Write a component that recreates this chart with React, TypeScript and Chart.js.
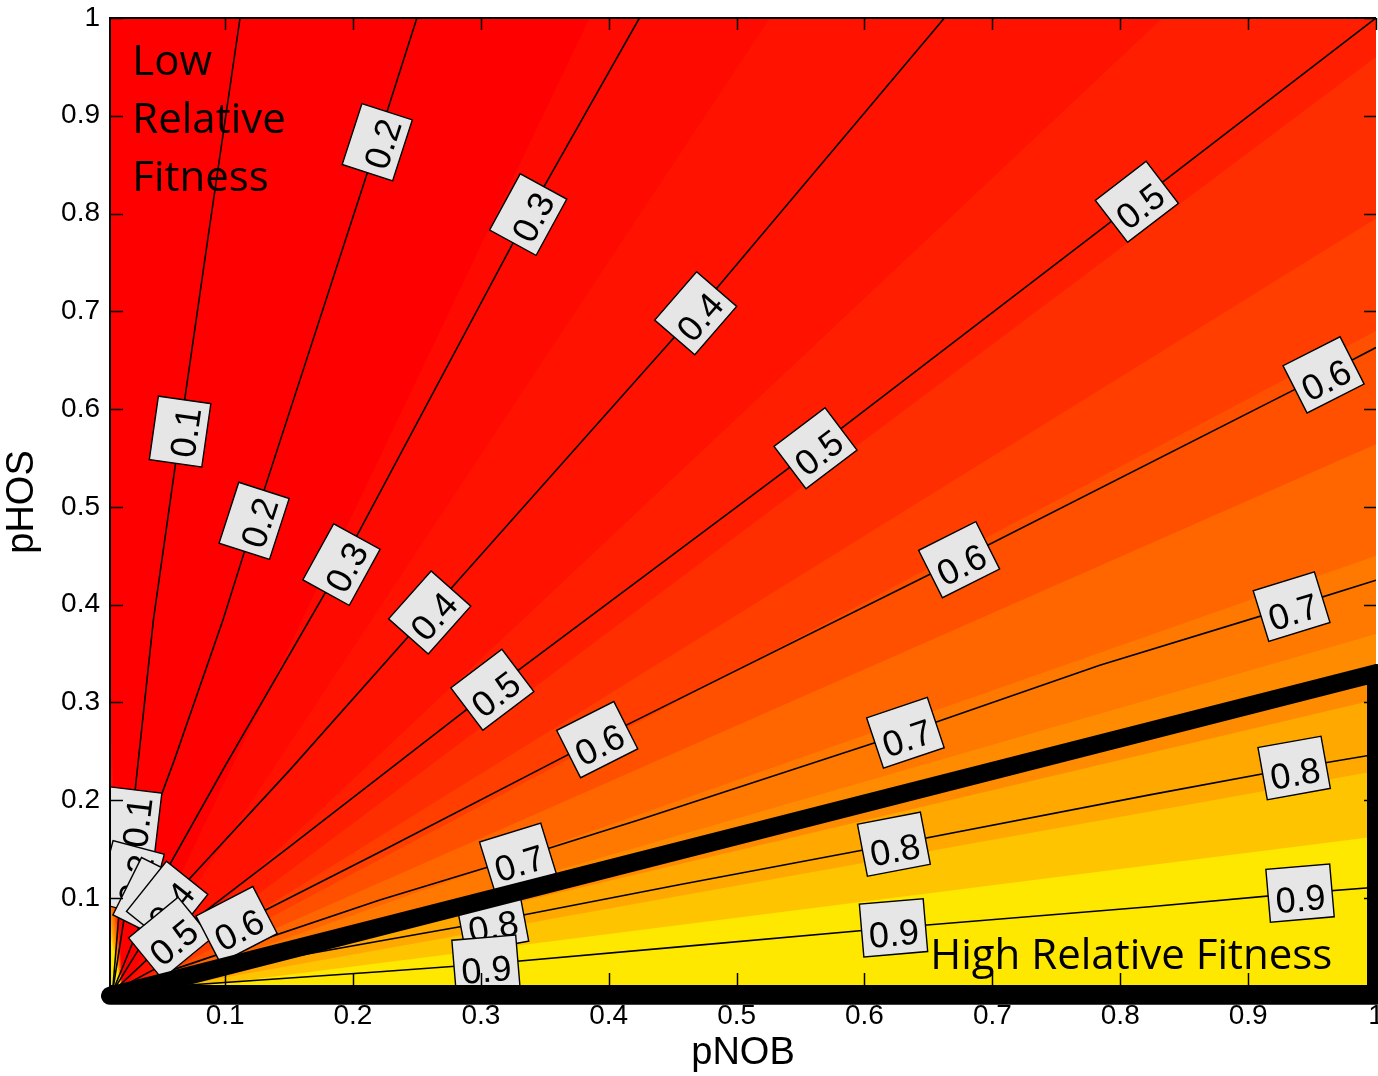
import React, { useEffect, useRef } from "react";
import { Chart, registerables } from "chart.js";

Chart.register(...registerables);

type Pt = [number, number];

// ---------- axes ----------
const xTicks = [0.1, 0.2, 0.3, 0.4, 0.5, 0.6, 0.7, 0.8, 0.9, 1];
const yTicks = [0.1, 0.2, 0.3, 0.4, 0.5, 0.6, 0.7, 0.8, 0.9, 1];
const xLimits = [0.01, 1];
const yLimits = [0.01, 1];

// ---------- contour lines (pNOB, pHOS) ----------
const contourLevels = [0.1, 0.2, 0.3, 0.4, 0.5, 0.6, 0.7, 0.8, 0.9];
const contour01: Pt[] = [[0.012, 0.004], [0.018, 0.1], [0.027, 0.178], [0.044, 0.385], [0.0648, 0.577], [0.0867, 0.776], [0.1117, 1]];
const contour02: Pt[] = [[0.012, 0.004], [0.026, 0.12], [0.06, 0.24], [0.0984, 0.3845], [0.1227, 0.4857], [0.219, 0.873], [0.25, 1]];
const contour03: Pt[] = [[0.012, 0.004], [0.042, 0.1], [0.1, 0.235], [0.191, 0.441], [0.337, 0.799], [0.424, 1]];
const contour04: Pt[] = [[0.012, 0.004], [0.0547, 0.095], [0.15, 0.23], [0.26, 0.392], [0.468, 0.698], [0.6625, 1]];
const contour05: Pt[] = [[0.012, 0.004], [0.057, 0.059], [0.15, 0.152], [0.309, 0.313], [0.5617, 0.56], [0.813, 0.812], [1, 1]];
const contour06: Pt[] = [[0.012, 0.004], [0.06, 0.038], [0.109, 0.0726], [0.221, 0.147], [0.391, 0.262], [0.674, 0.446], [0.959, 0.635], [1, 0.663]];
const contour07: Pt[] = [[0.012, 0.004], [0.06, 0.027], [0.221, 0.098], [0.329, 0.141], [0.424, 0.18], [0.632, 0.269], [0.784, 0.338], [0.934, 0.398], [1, 0.425]];
const contour08: Pt[] = [[0.012, 0.004], [0.05, 0.016], [0.221, 0.056], [0.309, 0.0765], [0.455, 0.1135], [0.623, 0.155], [0.823, 0.2055], [0.936, 0.233], [1, 0.247]];
const contour09: Pt[] = [[0.012, 0.004], [0.06, 0.01], [0.221, 0.0245], [0.304, 0.0325], [0.455, 0.05], [0.6227, 0.0695], [0.823, 0.091], [0.9406, 0.105], [1, 0.111]];
const contourLines = [contour01, contour02, contour03, contour04, contour05, contour06, contour07, contour08, contour09];

// ---------- contour labels ----------
const labelLevels = [0.1, 0.1, 0.2, 0.2, 0.2, 0.3, 0.3, 0.3, 0.4, 0.4, 0.4, 0.5, 0.5, 0.5, 0.5, 0.6, 0.6, 0.6, 0.6, 0.7, 0.7, 0.7, 0.8, 0.8, 0.8, 0.9, 0.9, 0.9];
const labelNOB = [0.0648, 0.027, 0.219, 0.1227, 0.026, 0.337, 0.191, 0.042, 0.468, 0.26, 0.0547, 0.813, 0.5617, 0.309, 0.057, 0.959, 0.674, 0.391, 0.109, 0.934, 0.632, 0.329, 0.936, 0.623, 0.309, 0.9406, 0.6227, 0.304];
const labelHOS = [0.577, 0.178, 0.873, 0.4857, 0.12, 0.799, 0.441, 0.1, 0.698, 0.392, 0.095, 0.812, 0.56, 0.313, 0.059, 0.635, 0.446, 0.262, 0.0726, 0.398, 0.269, 0.141, 0.233, 0.155, 0.0765, 0.105, 0.0695, 0.0325];

// ---------- filled bands: boundary edges from top-left to bottom-right ----------
const bandEdges: Pt[][] = [
  [[0.01, 0.29], [0.02, 0], [0.385, 1]],
  [[0.01, 0.26], [0.02, 0], [0.526, 1]],
  [[0.01, 0.23], [0.02, 0], [0.833, 1]],
  [[0.01, 0.2], [0.02, 0], [1, 0.96]],
  [[0.01, 0.175], [0.02, 0], [1, 0.795]],
  [[0.01, 0.15], [0.02, 0], [1, 0.68]],
  [[0.01, 0.13], [0.02, 0], [1, 0.564]],
  [[0.01, 0.115], [0.02, 0], [1, 0.45]],
  [[0.01, 0.1], [0.02, 0], [1, 0.37]],
  [[0.01, 0.085], [0.02, 0], [1, 0.303]],
  [[0.01, 0.075], [0.02, 0], [1, 0.23]],
  [[0.01, 0.065], [0.02, 0], [1, 0.163]],
];
const baseEdge: Pt[] = [[0.01, 0], [1, 0]];
const bandColors = [
  "#ff0000", "#ff0a00", "#ff1200", "#ff1e00", "#ff2e00", "#ff3e00", "#ff5000",
  "#ff6600", "#ff7800", "#ff8c00", "#ffa800", "#ffc400", "#ffe800",
];

// ---------- thick target region ----------
const targetRegion: Pt[] = [[0.01, 0], [1, 0.33], [1, 0], [0.01, 0]];

// ---------- annotations ----------
const noteTexts = ["Low", "Relative", "Fitness", "High Relative Fitness"];
const noteNOB = [0.0274, 0.0274, 0.0274, 0.6514];
const noteHOS = [0.9417, 0.8823, 0.8234, 0.0275];

const ARIAL = '"Liberation Sans", Arial, Helvetica, sans-serif';
const NOTE_FONT = '42px "Open Sans", "Lato", sans-serif';

const toXY = (pts: Pt[]) => pts.map(([x, y]) => ({ x, y }));

const zeroPad = (s: any) => {
  s.paddingLeft = 0;
  s.paddingRight = 0;
  s.paddingTop = 0;
  s.paddingBottom = 0;
};

const contourLabelPlugin = {
  id: "contourLabels",
  beforeDatasetDraw(chart: any, args: any) {
    if (args.index !== 0) return;
    const { ctx, chartArea } = chart;
    const xs = chart.scales.x;
    const ys = chart.scales.y;
    ctx.save();
    ctx.beginPath();
    ctx.rect(chartArea.left, chartArea.top, chartArea.right - chartArea.left, chartArea.bottom - chartArea.top);
    ctx.clip();
    ctx.font = `36px ${ARIAL}`;
    for (let i = 0; i < labelLevels.length; i++) {
      const lv = labelLevels[i];
      const line = contourLines[contourLevels.indexOf(lv)];
      const ax = labelNOB[i];
      const ay = labelHOS[i];
      const px = xs.getPixelForValue(ax);
      const py = ys.getPixelForValue(ay);
      let prev = 0;
      let next = line.length - 1;
      for (let k = 0; k < line.length; k++) {
        if (line[k][0] < ax - 1e-6) prev = k;
      }
      for (let k = line.length - 1; k >= 0; k--) {
        if (line[k][0] > ax + 1e-6) next = k;
      }
      const x1 = xs.getPixelForValue(line[prev][0]);
      const y1 = ys.getPixelForValue(line[prev][1]);
      const x2 = xs.getPixelForValue(line[next][0]);
      const y2 = ys.getPixelForValue(line[next][1]);
      const ang = Math.atan2(y2 - y1, x2 - x1);
      const text = lv.toFixed(1);
      const w = ctx.measureText(text).width + 14;
      const h = 53;
      ctx.save();
      ctx.translate(px, py);
      ctx.rotate(ang);
      ctx.fillStyle = "#e6e6e6";
      ctx.fillRect(-w / 2, -h / 2, w, h);
      ctx.strokeStyle = "#000";
      ctx.lineWidth = 1.4;
      ctx.strokeRect(-w / 2, -h / 2, w, h);
      ctx.fillStyle = "#000";
      ctx.textAlign = "center";
      ctx.textBaseline = "alphabetic";
      ctx.fillText(text, 0, 18);
      ctx.restore();
    }
    ctx.restore();
  },
};

const overlayPlugin = {
  id: "overlay",
  afterDraw(chart: any) {
    const { ctx, chartArea } = chart;
    const xs = chart.scales.x;
    const ys = chart.scales.y;
    const { left, right, top, bottom } = chartArea;
    ctx.save();
    ctx.fillStyle = "#000";
    ctx.font = NOTE_FONT;
    ctx.textAlign = "left";
    ctx.textBaseline = "alphabetic";
    for (let i = 0; i < noteTexts.length; i++) {
      ctx.fillText(noteTexts[i], xs.getPixelForValue(noteNOB[i]), ys.getPixelForValue(noteHOS[i]));
    }
    ctx.strokeStyle = "#000";
    ctx.lineWidth = 1.5;
    ctx.beginPath();
    for (const v of xTicks) {
      const p = Math.round(xs.getPixelForValue(v)) + 0.5;
      ctx.moveTo(p, bottom);
      ctx.lineTo(p, bottom - 13);
      ctx.moveTo(p, top);
      ctx.lineTo(p, top + 12);
    }
    for (const v of yTicks) {
      const p = Math.round(ys.getPixelForValue(v)) + 0.5;
      ctx.moveTo(left, p);
      ctx.lineTo(left + 13, p);
      ctx.moveTo(right, p);
      ctx.lineTo(right - 12, p);
    }
    ctx.stroke();
    ctx.lineWidth = 2;
    ctx.beginPath();
    ctx.moveTo(right, bottom);
    ctx.lineTo(left, bottom);
    ctx.lineTo(left, top);
    ctx.lineTo(right, top);
    ctx.stroke();
    ctx.restore();
  },
};

export default function App() {
  const ref = useRef<HTMLCanvasElement>(null);
  useEffect(() => {
    const canvas = ref.current;
    if (!canvas) return;
    const datasets: any[] = [];
    datasets.push({
      label: "target",
      data: toXY(targetRegion),
      borderColor: "#000",
      borderWidth: 18,
      borderCapStyle: "round",
      borderJoinStyle: "round",
      pointRadius: 0,
      fill: false,
      clip: false,
      order: 0,
    });
    contourLines.forEach((pts, i) => {
      datasets.push({
        label: `c${contourLevels[i]}`,
        data: toXY(pts),
        borderColor: "#000",
        borderWidth: 1.6,
        pointRadius: 0,
        fill: false,
        order: 1,
      });
    });
    datasets.push({
      label: "base",
      data: toXY(baseEdge),
      backgroundColor: bandColors[bandColors.length - 1],
      borderWidth: 0,
      pointRadius: 0,
      fill: "end",
      order: 300,
    });
    bandEdges.forEach((pts, k) => {
      datasets.push({
        label: `band${k}`,
        data: toXY(pts),
        backgroundColor: bandColors[k],
        borderWidth: 0,
        pointRadius: 0,
        fill: "end",
        order: 100 + k,
      });
    });

    const chart = new Chart(canvas, {
      type: "line",
      data: { datasets },
      options: {
        responsive: false,
        animation: false,
        devicePixelRatio: 1,
        events: [],
        layout: { padding: { top: 18, right: 2, left: 0, bottom: 0 }, autoPadding: false } as any,
        plugins: { legend: { display: false }, tooltip: { enabled: false } },
        scales: {
          x: {
            type: "linear",
            min: xLimits[0],
            max: xLimits[1],
            afterFit: (s: any) => {
              s.height = 90;
              zeroPad(s);
            },
            afterBuildTicks: (s: any) => {
              s.ticks = xTicks.map((v) => ({ value: v }));
            },
            grid: { display: false, drawTicks: false },
            border: { display: false },
            ticks: {
              autoSkip: false,
              maxRotation: 0,
              padding: 13,
              color: "#000",
              font: { family: ARIAL, size: 28 },
              callback: (v: any) => String(v),
            },
            title: { display: true, text: "pNOB", color: "#000", font: { family: ARIAL, size: 38 }, padding: 0 },
          },
          y: {
            type: "linear",
            min: yLimits[0],
            max: yLimits[1],
            afterFit: (s: any) => {
              s.width = 110;
              zeroPad(s);
            },
            afterBuildTicks: (s: any) => {
              s.ticks = yTicks.map((v) => ({ value: v }));
            },
            grid: { display: false, drawTicks: false },
            border: { display: false },
            ticks: {
              autoSkip: false,
              padding: 10,
              color: "#000",
              font: { family: ARIAL, size: 28 },
              callback: (v: any) => String(v),
            },
            title: { display: true, text: "pHOS", color: "#000", font: { family: ARIAL, size: 38 }, padding: 0 },
          },
        },
      } as any,
      plugins: [contourLabelPlugin, overlayPlugin],
    });
    return () => chart.destroy();
  }, []);

  return (
    <div style={{ position: "absolute", left: 0, top: 0, width: 1378, height: 1076, background: "#fff" }}>
      <canvas ref={ref} width={1378} height={1076} style={{ display: "block" }} />
    </div>
  );
}
